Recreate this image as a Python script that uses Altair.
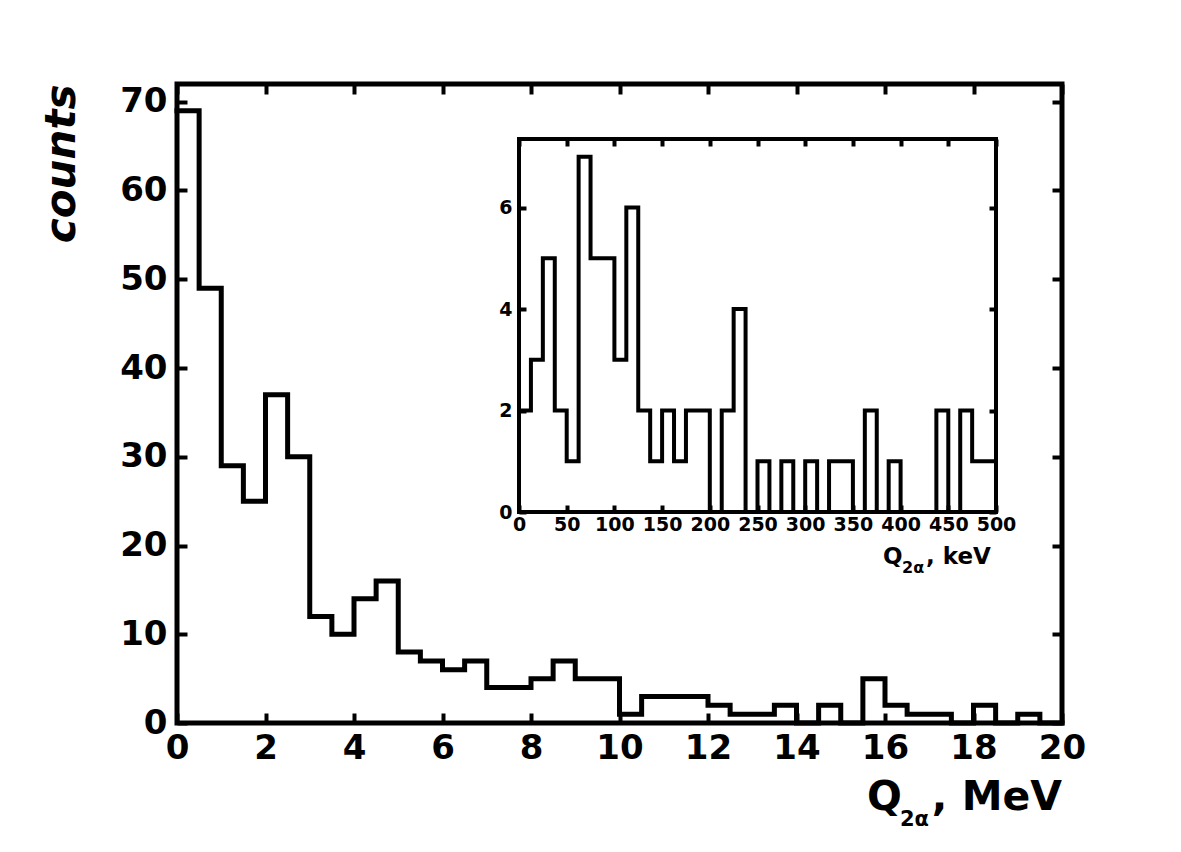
import pandas as pd
import altair as alt

FONT = "DejaVu Sans"
W, H = 885, 639

# main histogram: Q_2alpha in MeV, 0.5 MeV bins
main_bin_width = 0.5
main_counts = [69, 49, 29, 25, 37, 30, 12, 10, 14, 16,
               8, 7, 6, 7, 4, 4, 5, 7, 5, 5,
               1, 3, 3, 3, 2, 1, 1, 2, 0, 2,
               0, 5, 2, 1, 1, 0, 2, 0, 1, 0]
main_xticks = [0, 2, 4, 6, 8, 10, 12, 14, 16, 18, 20]
main_yticks = [0, 10, 20, 30, 40, 50, 60, 70]

# inset: Q_2alpha in keV, 12.5 keV bins
inset_bin_width = 12.5
inset_counts = [2, 3, 5, 2, 1, 7, 5, 5, 3, 6,
                2, 1, 2, 1, 2, 2, 0, 2, 4, 0,
                1, 0, 1, 0, 1, 0, 1, 1, 0, 2,
                0, 1, 0, 0, 0, 2, 0, 2, 1, 1]
inset_xticks = [0, 50, 100, 150, 200, 250, 300, 350, 400, 450, 500]
inset_yticks = [0, 2, 4, 6]


def step_frame(counts, width):
    # bin edges, last count repeated so the step reaches the right edge
    edges = [i * width for i in range(len(counts) + 1)]
    return pd.DataFrame({"q": edges, "n": counts + counts[-1:]})


main_df = step_frame(main_counts, main_bin_width)
inset_df = step_frame(inset_counts, inset_bin_width)

# pixel placement of the inset inside the main plot area
IX0, IX1 = 342, 819
IY0, IY1 = 428, 55

mx = alt.Scale(domain=[0, 20], nice=False, zero=False)
my = alt.Scale(domain=[0, 72], nice=False, zero=False)
ix = alt.Scale(domain=[0, 500], nice=False, zero=False, range=[IX0, IX1])
iy = alt.Scale(domain=[0, 7.35], nice=False, zero=False, range=[IY0, IY1])

ax = dict(domain=False, grid=False, tickColor="black", tickWidth=4,
          labelColor="black", labelFont=FONT, labelFontWeight="bold",
          labelFlush=False, labelOverlap=False)

line_style = dict(interpolate="step-after", color="black", strokeJoin="miter",
                  strokeCap="square")

main_line = alt.Chart(main_df).mark_line(strokeWidth=5, **line_style).encode(
    x=alt.X("q:Q", scale=mx, axis=alt.Axis(
        orient="bottom", offset=-10, tickSize=10, values=main_xticks,
        labelFontSize=34, labelPadding=8, title=None, **ax)),
    y=alt.Y("n:Q", scale=my, axis=alt.Axis(
        orient="left", offset=-10, tickSize=10, values=main_yticks,
        labelFontSize=34, labelPadding=10, title="counts",
        titleFont=FONT, titleFontSize=42, titleFontWeight="bold",
        titleFontStyle="italic", titleColor="black", titleAnchor="end",
        titlePadding=36, **ax)),
)

frame_main = alt.Chart(pd.DataFrame({"x0": [0], "x1": [20], "y0": [0], "y1": [72]})).mark_rect(
    fillOpacity=0, stroke="black", strokeWidth=5
).encode(
    x=alt.X("x0:Q", scale=mx, axis=alt.Axis(
        orient="top", offset=-10, tickSize=10, values=main_xticks,
        labels=False, title=None, **ax)),
    x2="x1",
    y=alt.Y("y0:Q", scale=my, axis=alt.Axis(
        orient="right", offset=-10, tickSize=10, values=main_yticks,
        labels=False, title=None, **ax)),
    y2="y1",
)

inset_line = alt.Chart(inset_df).mark_line(strokeWidth=4, **line_style).encode(
    x=alt.X("q:Q", scale=ix, axis=alt.Axis(
        orient="bottom", offset=(IY0 - 7) - H, tickSize=7, values=inset_xticks,
        labelFontSize=19, labelPadding=3, title=None, **ax)),
    y=alt.Y("n:Q", scale=iy, axis=alt.Axis(
        orient="left", offset=-(IX0 + 7), tickSize=7, values=inset_yticks,
        labelFontSize=19, labelPadding=7, title=None, **ax)),
)

frame_inset = alt.Chart(pd.DataFrame({"x0": [0], "x1": [500], "y0": [0], "y1": [7.35]})).mark_rect(
    fillOpacity=0, stroke="black", strokeWidth=4
).encode(
    x=alt.X("x0:Q", scale=ix, axis=alt.Axis(
        orient="top", offset=-(IY1 + 7), tickSize=7, values=inset_xticks,
        labels=False, title=None, **ax)),
    x2="x1",
    y=alt.Y("y0:Q", scale=iy, axis=alt.Axis(
        orient="right", offset=(IX1 - 7) - W, tickSize=7, values=inset_yticks,
        labels=False, title=None, **ax)),
    y2="y1",
)


def label(text, x, y, size, align="left"):
    return alt.Chart(pd.DataFrame({"t": [text]})).mark_text(
        font=FONT, fontSize=size, fontWeight="bold", color="black",
        align=align, baseline="alphabetic"
    ).encode(text="t:N", x=alt.value(x), y=alt.value(y))


# axis titles with subscripts: Q_{2alpha}, MeV / keV
titles = (
    label("Q", 690, 726, 41)
    + label("2α", 723, 742, 21)
    + label(", MeV", 885, 726, 41, "right")
    + label("Q", 706, 480, 23)
    + label("2α", 725, 489, 16)
    + label(", keV", 749, 480, 23)
)

chart = alt.layer(main_line, frame_main, inset_line, frame_inset, titles).resolve_scale(
    x="independent", y="independent"
).properties(
    width=W, height=H,
    autosize=alt.AutoSizeParams(type="none"),
    padding={"left": 169, "top": 76, "right": 100, "bottom": 110},
).configure_view(stroke="transparent")

chart.save("out.html", embed_options={"renderer": "svg", "actions": False})
